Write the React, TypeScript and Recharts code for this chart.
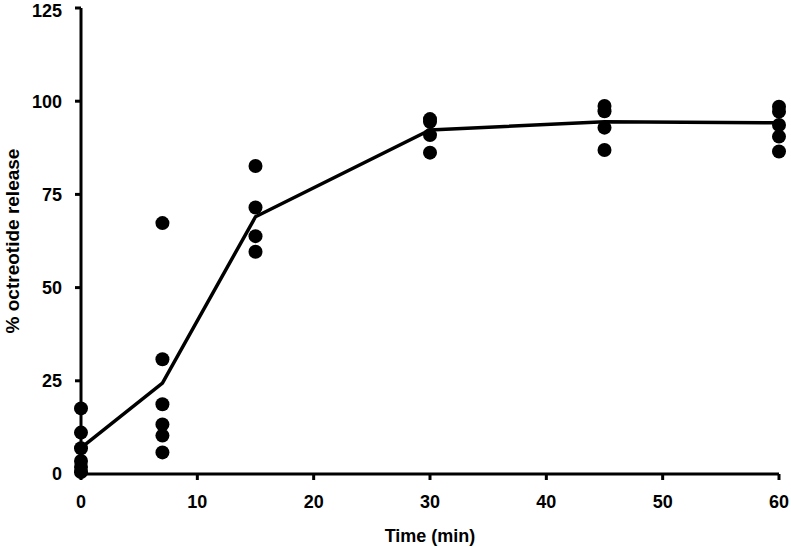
import React from "react";
import {
  ComposedChart,
  Line,
  Scatter,
  XAxis,
  YAxis,
  Label,
} from "recharts";

// sampling times (min)
const times = [0, 7, 15, 30, 45, 60];
// mean release per time point (%)
const meanRelease = [7, 24.4, 69, 92.3, 94.5, 94.2];
// individual replicate values per time point (%)
const replicates = [
  [17.6, 11.1, 6.9, 3.5, 1.9, 0.5],
  [67.3, 30.8, 18.7, 13.3, 10.3, 5.8],
  [82.6, 71.5, 63.8, 59.6],
  [95.2, 94.5, 90.9, 86.2],
  [98.7, 97.3, 92.9, 86.9],
  [98.5, 97.2, 93.6, 90.5, 86.5],
];
const xTicks = [0, 10, 20, 30, 40, 50, 60];
const yTicks = [0, 25, 50, 75, 100, 125];

const meanData = times.map((t, i) => ({ time: t, mean: meanRelease[i] }));
const pointData = times.flatMap((t, i) =>
  replicates[i].map((v) => ({ time: t, value: v }))
);

const font = "'Liberation Sans', Arial, sans-serif";
const tickStyle = { fill: "#000", fontSize: 18, fontWeight: 700, fontFamily: font };

export default function App() {
  return (
    <div style={{ position: "absolute", left: 0, top: 0, background: "#fff" }}>
      <ComposedChart
        width={791}
        height={547}
        margin={{ top: 8, right: 12, bottom: 0, left: 0 }}
      >
        <XAxis
          type="number"
          dataKey="time"
          domain={[0, 60]}
          ticks={xTicks}
          height={73}
          stroke="#000"
          strokeWidth={3}
          tickSize={6}
          tickMargin={15}
          tick={tickStyle}
          allowDuplicatedCategory={false}
        >
          <Label
            value="Time (min)"
            position="insideBottom"
            offset={5}
            style={{ fill: "#000", fontSize: 18, fontWeight: 700, fontFamily: font }}
          />
        </XAxis>
        <YAxis
          type="number"
          domain={[0, 125]}
          ticks={yTicks}
          width={81}
          stroke="#000"
          strokeWidth={3}
          tickSize={6}
          tickMargin={13}
          tick={tickStyle}
        >
          <Label
            value="% octreotide release"
            angle={-90}
            position="insideLeft"
            offset={12}
            style={{
              fill: "#000",
              fontSize: 19,
              fontWeight: 700,
              fontFamily: font,
              textAnchor: "middle",
            }}
          />
        </YAxis>
        <Line
          data={meanData}
          dataKey="mean"
          type="linear"
          stroke="#000"
          strokeWidth={3.5}
          dot={false}
          isAnimationActive={false}
        />
        <Scatter
          data={pointData}
          dataKey="value"
          fill="#000"
          shape={(p: any) => <circle cx={p.cx} cy={p.cy} r={7} fill="#000" />}
          isAnimationActive={false}
        />
      </ComposedChart>
    </div>
  );
}
